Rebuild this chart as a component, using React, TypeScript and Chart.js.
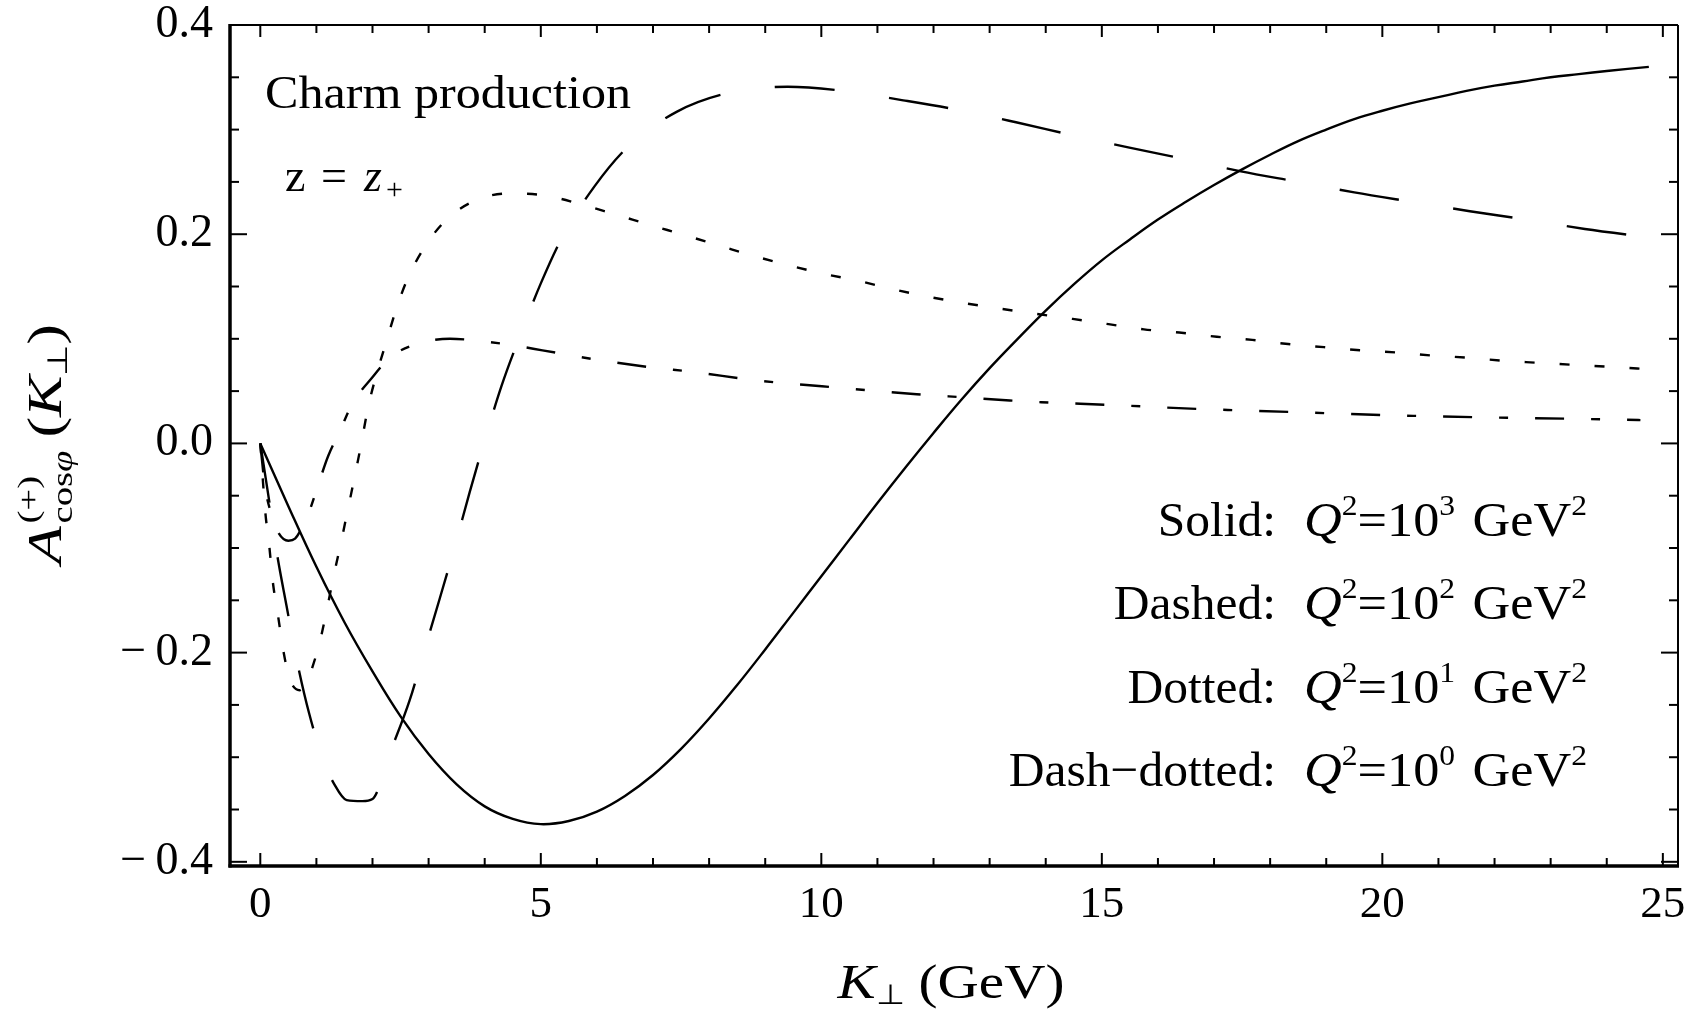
import React, { useEffect, useRef } from 'react';
import { Chart, registerables } from 'chart.js';

Chart.register(...registerables);

// ---------- data ----------
const kSolid = [0, 0.5, 1, 1.5, 2, 2.5, 3, 3.5, 4, 4.5, 5, 5.5, 6, 6.5, 7, 7.5, 8, 8.5, 9, 9.5, 10, 10.5, 11, 11.5, 12, 12.5, 13, 13.5, 14, 14.5, 15, 15.5, 16, 16.5, 17, 17.5, 18, 18.5, 19, 19.5, 20, 20.5, 21, 21.5, 22, 22.5, 23, 23.5, 24, 24.75];
const aSolid = [0, -0.06, -0.118, -0.171, -0.218, -0.261, -0.297, -0.326, -0.347, -0.359, -0.364, -0.361, -0.352, -0.337, -0.317, -0.292, -0.263, -0.231, -0.197, -0.162, -0.127, -0.092, -0.057, -0.023, 0.01, 0.042, 0.072, 0.1, 0.127, 0.152, 0.175, 0.195, 0.214, 0.231, 0.247, 0.262, 0.276, 0.289, 0.3, 0.31, 0.318, 0.325, 0.331, 0.337, 0.342, 0.346, 0.35, 0.353, 0.356, 0.36];

const kDashed = [0, 0.17, 0.29, 0.47, 0.65, 0.87, 1.15, 1.3, 1.54, 1.82, 2.0, 2.31, 2.66, 2.93, 3.2, 3.47, 3.73, 4.0, 4.3, 4.63, 5.0, 5.4, 5.96, 6.56, 7.42, 8.34, 9.4, 10.4, 11.46, 12.42, 13.47, 14.45, 15.47, 16.46, 17.48, 18.5, 19.5, 20.52, 21.56, 22.56, 23.61, 24.75];
const aDashed = [0, -0.059, -0.103, -0.156, -0.207, -0.258, -0.307, -0.324, -0.341, -0.342, -0.34, -0.296, -0.246, -0.197, -0.148, -0.098, -0.047, 0.003, 0.055, 0.103, 0.153, 0.199, 0.246, 0.284, 0.317, 0.335, 0.341, 0.337, 0.328, 0.319, 0.307, 0.295, 0.283, 0.272, 0.26, 0.25, 0.24, 0.231, 0.222, 0.214, 0.205, 0.197];

const kDotted = [0, 0.09, 0.16, 0.22, 0.32, 0.41, 0.53, 0.7, 0.85, 0.91, 1.06, 1.19, 1.31, 1.43, 1.55, 1.67, 1.79, 1.92, 2.06, 2.24, 2.42, 2.63, 2.92, 3.3, 3.82, 4.45, 5.08, 5.69, 6.32, 6.94, 7.57, 8.19, 8.81, 9.44, 10.06, 10.69, 11.31, 11.93, 12.56, 13.81, 14.48, 15.12, 15.75, 16.38, 17.05, 17.68, 18.32, 18.96, 19.6, 20.24, 20.88, 21.51, 22.16, 22.8, 23.45, 24.12, 24.75];
const aDotted = [0, -0.066, -0.098, -0.131, -0.166, -0.198, -0.226, -0.236, -0.226, -0.217, -0.19, -0.158, -0.126, -0.097, -0.066, -0.035, -0.003, 0.034, 0.064, 0.096, 0.128, 0.158, 0.187, 0.213, 0.232, 0.239, 0.237, 0.229, 0.219, 0.209, 0.199, 0.189, 0.179, 0.17, 0.162, 0.155, 0.147, 0.14, 0.134, 0.124, 0.119, 0.114, 0.109, 0.106, 0.102, 0.099, 0.095, 0.092, 0.089, 0.087, 0.084, 0.082, 0.079, 0.077, 0.075, 0.073, 0.071];

const kDashDot = [0, 0.08, 0.2, 0.33, 0.5, 0.62, 0.75, 0.88, 1.03, 1.21, 1.42, 1.64, 1.98, 2.31, 2.78, 3.38, 3.91, 4.48, 5.03, 6.0, 7.0, 7.69, 8.89, 10.01, 10.58, 11.7, 12.27, 13.36, 13.92, 15.05, 16.71, 18.4, 20.08, 21.75, 23.43, 24.6];
const aDashDot = [0, -0.04, -0.068, -0.086, -0.093, -0.091, -0.08, -0.064, -0.04, -0.012, 0.012, 0.038, 0.062, 0.082, 0.095, 0.1, 0.098, 0.094, 0.089, 0.08, 0.0725, 0.0685, 0.06, 0.0546, 0.052, 0.047, 0.045, 0.041, 0.0394, 0.037, 0.033, 0.03, 0.027, 0.025, 0.0235, 0.0223];

const xMajorTicks = [0, 5, 10, 15, 20, 25];
const xTickLabels = ['0', '5', '10', '15', '20', '25'];
const xMinorTicks = [1, 2, 3, 4, 6, 7, 8, 9, 11, 12, 13, 14, 16, 17, 18, 19, 21, 22, 23, 24];
const yMajorTicks = [-0.4, -0.2, 0, 0.2, 0.4];
const yTickLabels = ['\u2212\u20090.4', '\u2212\u20090.2', '0.0', '0.2', '0.4'];
const yMinorTicks = [-0.35, -0.3, -0.25, -0.15, -0.1, -0.05, 0.05, 0.1, 0.15, 0.25, 0.3, 0.35];

const legendNames = ['Solid:', 'Dashed:', 'Dotted:', 'Dash\u2212dotted:'];
const legendExps = ['3', '2', '1', '0'];

const SERIF = '"Liberation Serif", "Times New Roman", serif';

type Run = { t: string; size: number; italic?: boolean; dy?: number; over?: boolean; gap?: number };

function fontOf(r: Run) {
  return `${r.italic ? 'italic ' : ''}${r.size}px ${SERIF}`;
}

function layoutRuns(ctx: CanvasRenderingContext2D, runs: Run[]) {
  let x = 0;
  const pos: { r: Run; x: number }[] = [];
  for (const r of runs) {
    ctx.font = fontOf(r);
    const w = ctx.measureText(r.t).width;
    if (r.gap) x += r.gap;
    if (r.over && pos.length) {
      const sx = pos[pos.length - 1].x;
      pos.push({ r, x: sx });
      x = Math.max(x, sx + w);
    } else {
      pos.push({ r, x });
      x += w;
    }
  }
  return { pos, width: x };
}

function drawRuns(
  ctx: CanvasRenderingContext2D,
  runs: Run[],
  x: number,
  y: number,
  align: 'left' | 'center' | 'right',
  opts: { rotate?: number; targetWidth?: number } = {}
) {
  const { pos, width } = layoutRuns(ctx, runs);
  const sx = opts.targetWidth ? opts.targetWidth / width : 1;
  ctx.save();
  ctx.translate(x, y);
  if (opts.rotate) ctx.rotate(opts.rotate);
  const total = width * sx;
  const start = align === 'left' ? 0 : align === 'center' ? -total / 2 : -total;
  ctx.translate(start, 0);
  ctx.scale(sx, 1);
  ctx.textAlign = 'left';
  ctx.textBaseline = 'alphabetic';
  ctx.fillStyle = '#000';
  for (const p of pos) {
    ctx.font = fontOf(p.r);
    ctx.fillText(p.r.t, p.x, p.r.dy || 0);
  }
  ctx.restore();
}

const decorPlugin = {
  id: 'decor',
  afterDraw(chart: any) {
    const { ctx, chartArea: ca, scales } = chart;
    const xs = scales.x;
    const ys = scales.y;
    ctx.save();
    ctx.strokeStyle = '#000';
    ctx.lineCap = 'butt';
    const line = (x1: number, y1: number, x2: number, y2: number) => {
      ctx.beginPath();
      ctx.moveTo(x1, y1);
      ctx.lineTo(x2, y2);
      ctx.stroke();
    };
    ctx.lineWidth = 2;
    for (const v of xMajorTicks) {
      const p = xs.getPixelForValue(v);
      line(p, ca.bottom, p, ca.bottom - 13);
      line(p, ca.top, p, ca.top + 12);
    }
    for (const v of xMinorTicks) {
      const p = xs.getPixelForValue(v);
      line(p, ca.bottom, p, ca.bottom - 8);
      line(p, ca.top, p, ca.top + 8);
    }
    for (const v of yMajorTicks) {
      const p = ys.getPixelForValue(v);
      line(ca.left, p, ca.left + 17, p);
      line(ca.right, p, ca.right - 17, p);
    }
    for (const v of yMinorTicks) {
      const p = ys.getPixelForValue(v);
      line(ca.left, p, ca.left + 9, p);
      line(ca.right, p, ca.right - 9, p);
    }
    // frame
    ctx.lineWidth = 2;
    line(ca.left, ca.top, ca.right, ca.top);
    line(ca.right, ca.top, ca.right, ca.bottom);
    ctx.lineWidth = 3.5;
    line(ca.left, ca.top - 1, ca.left, ca.bottom + 1.5);
    line(ca.left - 1.5, ca.bottom, ca.right + 1, ca.bottom);
    ctx.restore();

    // annotations
    drawRuns(ctx, [{ t: 'Charm production', size: 46 }], 265, 108, 'left', { targetWidth: 366 });
    ctx.save();
    ctx.fillStyle = '#000';
    ctx.textBaseline = 'alphabetic';
    ctx.textAlign = 'left';
    ctx.font = `46px ${SERIF}`;
    ctx.fillText('z', 285, 191);
    ctx.fillText('=', 321, 191);
    ctx.font = `italic 46px ${SERIF}`;
    ctx.fillText('z', 364, 191);
    ctx.font = `30px ${SERIF}`;
    ctx.fillText('+', 386, 199);
    ctx.restore();

    // legend text
    const baselines = [536, 619, 703, 786];
    legendNames.forEach((name, i) => {
      const b = baselines[i];
      drawRuns(ctx, [{ t: name, size: 49.5 }], 1276, b, 'right');
      drawRuns(
        ctx,
        [
          { t: 'Q', size: 48, italic: true },
          { t: '2', size: 29, dy: -21 },
          { t: '=10', size: 48 },
          { t: legendExps[i], size: 29, dy: -21 },
          { t: ' GeV', size: 48, gap: 4 },
          { t: '2', size: 29, dy: -21 },
        ],
        1304,
        b,
        'left',
        { targetWidth: 283 }
      );
    });

    // x axis title
    drawRuns(
      ctx,
      [
        { t: 'K', size: 48, italic: true },
        { t: '\u22a5', size: 28, dy: 6 },
        { t: ' (GeV)', size: 48 },
      ],
      951,
      998,
      'center',
      { targetWidth: 227 }
    );

    // y axis title (rotated)
    drawRuns(
      ctx,
      [
        { t: 'A', size: 48, italic: true },
        { t: '(+)', size: 30, dy: -23, gap: 2 },
        { t: 'cos', size: 30, dy: 11, over: true },
        { t: '\u03c6', size: 30, dy: 11, italic: true },
        { t: '(', size: 48, gap: 10 },
        { t: 'K', size: 48, italic: true },
        { t: '\u22a5', size: 28, dy: 6 },
        { t: ')', size: 48 },
      ],
      61,
      444,
      'center',
      { rotate: -Math.PI / 2, targetWidth: 240 }
    );
  },
};

const mk = (ks: number[], as: number[]) => ks.map((k, i) => ({ x: k, y: as[i] }));

export default function App() {
  const ref = useRef<HTMLCanvasElement | null>(null);
  useEffect(() => {
    if (!ref.current) return;
    const base = {
      borderColor: '#000',
      backgroundColor: '#000',
      borderWidth: 2.4,
      pointRadius: 0,
      fill: false,
      borderCapStyle: 'butt' as const,
    };
    const smooth = { cubicInterpolationMode: 'default' as const, tension: 0.4 };
    const mono = { cubicInterpolationMode: 'monotone' as const };
    const chart = new Chart(ref.current, {
      type: 'line',
      data: {
        datasets: [
          { ...base, ...smooth, label: 'Solid', data: mk(kSolid, aSolid) },
          { ...base, ...mono, label: 'Dashed', data: mk(kDashed, aDashed), borderDash: [60, 55] },
          { ...base, ...mono, label: 'Dotted', data: mk(kDotted, aDotted), borderDash: [10, 25] },
          { ...base, ...mono, label: 'Dash-dotted', data: mk(kDashDot, aDashDot), borderDash: [29, 27, 9, 27] },
        ],
      },
      options: {
        animation: false,
        responsive: false,
        maintainAspectRatio: false,
        layout: { padding: { top: 25, right: 17, left: 0, bottom: 0 } },
        plugins: { legend: { display: false }, tooltip: { enabled: false } },
        elements: { point: { radius: 0 } },
        scales: {
          x: {
            type: 'linear',
            min: -0.54,
            max: 25.27,
            afterFit: (s: any) => {
              s.height = 148;
              s.paddingLeft = 0;
              s.paddingRight = 0;
            },
            afterBuildTicks: (s: any) => {
              s.ticks = xMajorTicks.map((v) => ({ value: v }));
            },
            grid: { display: false, drawTicks: false },
            border: { display: false },
            ticks: {
              padding: 12,
              color: '#000',
              maxRotation: 0,
              autoSkip: false,
              font: { family: SERIF, size: 45, lineHeight: 1.2 },
              callback: (v: any) => {
                const i = xMajorTicks.indexOf(Number(v));
                return i >= 0 ? xTickLabels[i] : '';
              },
            },
          },
          y: {
            type: 'linear',
            min: -0.404,
            max: 0.4,
            afterFit: (s: any) => {
              s.width = 230;
              s.paddingTop = 0;
              s.paddingBottom = 0;
            },
            afterBuildTicks: (s: any) => {
              s.ticks = yMajorTicks.map((v) => ({ value: v }));
            },
            grid: { display: false, drawTicks: false },
            border: { display: false },
            ticks: {
              padding: 17,
              color: '#000',
              autoSkip: false,
              font: { family: SERIF, size: 46, lineHeight: 1.2 },
              callback: (v: any) => {
                const i = yMajorTicks.findIndex((t) => Math.abs(t - Number(v)) < 1e-9);
                return i >= 0 ? yTickLabels[i] : '';
              },
            },
          },
        },
      },
      plugins: [decorPlugin],
    } as any);
    return () => chart.destroy();
  }, []);
  return (
    <div style={{ position: 'fixed', left: 0, top: 0, width: 1695, height: 1014, background: '#fff' }}>
      <canvas ref={ref} width={1695} height={1014} style={{ width: 1695, height: 1014, display: 'block' }} />
    </div>
  );
}
